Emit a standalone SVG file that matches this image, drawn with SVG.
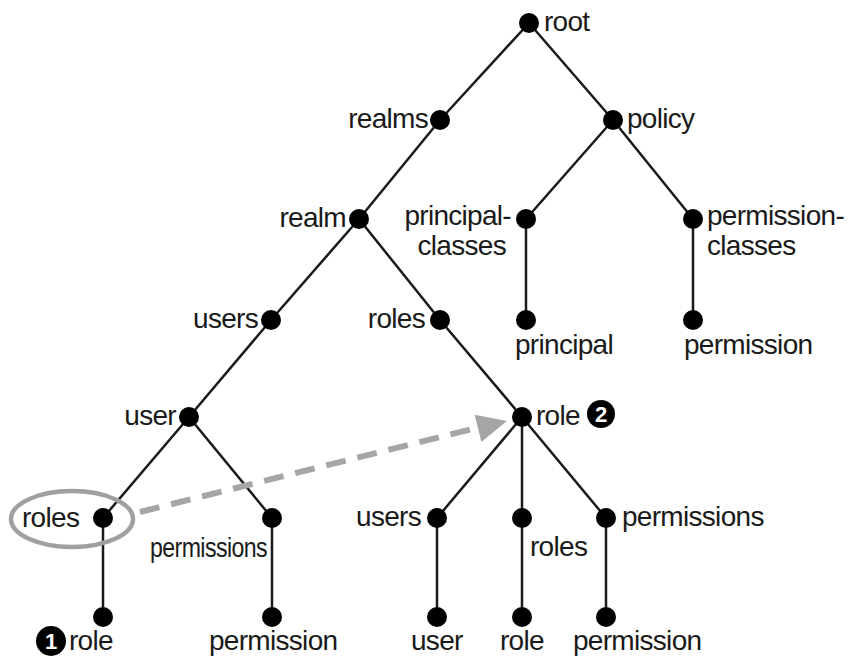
<svg xmlns="http://www.w3.org/2000/svg" width="852" height="661" viewBox="0 0 852 661">
  <style>
    .edge { stroke: #1a1a1a; stroke-width: 2.5; fill: none; }
    .dot { fill: #000; }
    .lbl { font-family: "Liberation Sans", Arial, sans-serif; font-size: 28px; letter-spacing: -0.7px; fill: #1a1a1a; }
    .end { text-anchor: end; }
    .num { font-family: "Liberation Sans", Arial, sans-serif; font-size: 22px; font-weight: bold; fill: #fff; text-anchor: middle; }
  </style>

  <rect width="852" height="661" fill="#fff"/>

  <!-- tree edges and the dashed role reference -->
  <g id="connectors">
    <line class="edge" x1="529" y1="23" x2="440" y2="120"/>
    <line class="edge" x1="529" y1="23" x2="613" y2="120"/>
    <line class="edge" x1="440" y1="120" x2="359" y2="219"/>
    <line class="edge" x1="613" y1="120" x2="526" y2="219"/>
    <line class="edge" x1="613" y1="120" x2="693" y2="219"/>
    <line class="edge" x1="526" y1="219" x2="526" y2="320"/>
    <line class="edge" x1="693" y1="219" x2="693" y2="320"/>
    <line class="edge" x1="359" y1="219" x2="271" y2="320"/>
    <line class="edge" x1="359" y1="219" x2="440" y2="320"/>
    <line class="edge" x1="271" y1="320" x2="189" y2="417"/>
    <line class="edge" x1="440" y1="320" x2="522" y2="417"/>
    <line class="edge" x1="189" y1="417" x2="103" y2="518"/>
    <line class="edge" x1="189" y1="417" x2="272" y2="518"/>
    <line class="edge" x1="522" y1="417" x2="437" y2="518"/>
    <line class="edge" x1="522" y1="417" x2="522" y2="518"/>
    <line class="edge" x1="522" y1="417" x2="606" y2="518"/>
    <line class="edge" x1="103" y1="518" x2="103" y2="617"/>
    <line class="edge" x1="272" y1="518" x2="272" y2="617"/>
    <line class="edge" x1="437" y1="518" x2="437" y2="617"/>
    <line class="edge" x1="522" y1="518" x2="522" y2="617"/>
    <line class="edge" x1="606" y1="518" x2="606" y2="617"/>
    <line x1="140" y1="512" x2="480" y2="427" stroke="#a6a6a6" stroke-width="6" stroke-dasharray="20 12"/>
    <polygon points="507,421 474.6,414.7 481.4,441.9" fill="#a6a6a6"/>
  </g>

  <g id="n-root"><circle class="dot" cx="529" cy="23" r="10"/><text class="lbl" x="544" y="31">root</text></g>
  <g id="n-realms"><circle class="dot" cx="440" cy="120" r="10"/><text class="lbl end" x="428" y="128">realms</text></g>
  <g id="n-policy"><circle class="dot" cx="613" cy="120" r="10"/><text class="lbl" x="627" y="128">policy</text></g>
  <g id="n-realm"><circle class="dot" cx="359" cy="219" r="10"/><text class="lbl end" x="346" y="227">realm</text></g>
  <g id="n-principal-classes"><circle class="dot" cx="526" cy="219" r="10"/>
    <text class="lbl end"><tspan x="511" y="225">principal-</tspan><tspan x="506" y="255">classes</tspan></text></g>
  <g id="n-permission-classes"><circle class="dot" cx="693" cy="219" r="10"/>
    <text class="lbl"><tspan x="707" y="225">permission-</tspan><tspan x="707" y="255">classes</tspan></text></g>
  <g id="n-principal"><circle class="dot" cx="526" cy="320" r="10"/><text class="lbl" x="515" y="354">principal</text></g>
  <g id="n-permission-top"><circle class="dot" cx="693" cy="320" r="10"/><text class="lbl" x="684" y="354">permission</text></g>
  <g id="n-users"><circle class="dot" cx="271" cy="320" r="10"/><text class="lbl end" x="258" y="328">users</text></g>
  <g id="n-roles"><circle class="dot" cx="440" cy="320" r="10"/><text class="lbl end" x="425" y="328">roles</text></g>
  <g id="n-user"><circle class="dot" cx="189" cy="417" r="10"/><text class="lbl end" x="176" y="425">user</text></g>
  <g id="n-role"><circle class="dot" cx="522" cy="417" r="10"/><text class="lbl" x="536" y="425">role</text>
    <circle cx="601" cy="414" r="14" fill="#000"/><text class="num" x="601" y="422">2</text></g>
  <g id="n-user-roles"><ellipse cx="72" cy="519" rx="61" ry="28" fill="none" stroke="#a0a0a0" stroke-width="4.5"/>
    <circle class="dot" cx="103" cy="518" r="10"/><text class="lbl" x="22" y="527">roles</text></g>
  <g id="n-user-permissions"><circle class="dot" cx="272" cy="518" r="10"/><text class="lbl" x="150" y="557" textLength="117" lengthAdjust="spacingAndGlyphs">permissions</text></g>
  <g id="n-role-users"><circle class="dot" cx="437" cy="518" r="10"/><text class="lbl end" x="421" y="526">users</text></g>
  <g id="n-role-roles"><circle class="dot" cx="522" cy="518" r="10"/><text class="lbl" x="530" y="556">roles</text></g>
  <g id="n-role-permissions"><circle class="dot" cx="606" cy="518" r="10"/><text class="lbl" x="622" y="526">permissions</text></g>
  <g id="n-leaf-role-1"><circle class="dot" cx="103" cy="617" r="10"/>
    <circle cx="51" cy="641" r="15" fill="#000"/><text class="num" x="51" y="649">1</text>
    <text class="lbl" x="69" y="650">role</text></g>
  <g id="n-leaf-permission-1"><circle class="dot" cx="272" cy="617" r="10"/><text class="lbl" x="209" y="650">permission</text></g>
  <g id="n-leaf-user"><circle class="dot" cx="437" cy="617" r="10"/><text class="lbl" x="411" y="650">user</text></g>
  <g id="n-leaf-role-2"><circle class="dot" cx="522" cy="617" r="10"/><text class="lbl" x="500" y="650">role</text></g>
  <g id="n-leaf-permission-2"><circle class="dot" cx="606" cy="617" r="10"/><text class="lbl" x="573" y="650">permission</text></g>
</svg>
